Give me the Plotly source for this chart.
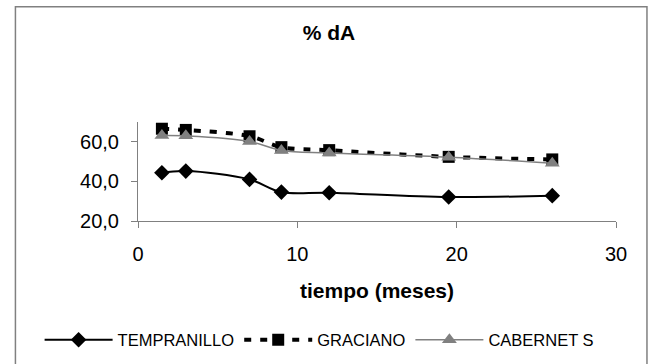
import plotly.graph_objects as go

tiempo = [1.5, 3, 7, 9, 12, 19.5, 26]
tempranillo = [44.4, 45.2, 41.0, 34.6, 34.3, 32.1, 32.8]
graciano = [66.6, 66.0, 62.8, 57.3, 55.8, 52.4, 51.1]
cabernet = [63.2, 63.0, 60.2, 55.6, 54.3, 52.2, 49.2]

W, H = 658, 364
L, R, T, B = 137.5, 42, 122, 143

fig = go.Figure()
fig.add_trace(go.Scatter(
    x=tiempo, y=tempranillo, name="TEMPRANILLO", mode="lines+markers",
    line=dict(color="black", width=2, shape="spline"),
    marker=dict(symbol="diamond", size=12, color="black")))
fig.add_trace(go.Scatter(
    x=tiempo, y=graciano, name="GRACIANO", mode="lines+markers",
    line=dict(color="black", width=4, dash="7px,9px", shape="spline"),
    marker=dict(symbol="square", size=12, color="black")))
fig.add_trace(go.Scatter(
    x=tiempo, y=cabernet, name="CABERNET S", mode="lines+markers",
    line=dict(color="#808080", width=1.5, shape="spline"),
    marker=dict(symbol="triangle-up", size=13, color="#808080")))

pw = W - L - R
ph = H - T - B
def px(x):
    return (x - L) / pw
def py(y):
    return (H - B - y) / ph

fig.add_shape(type="rect", xref="paper", yref="paper",
              x0=px(14.8), x1=px(647), y0=py(6.7), y1=py(366),
              line=dict(color="#808080", width=1.5), layer="below")

fig.update_layout(
    width=W, height=H,
    margin=dict(l=L, r=R, t=T, b=B, autoexpand=False),
    paper_bgcolor="white", plot_bgcolor="white",
    font=dict(family="Liberation Sans, Arial, sans-serif", color="black"),
    title=dict(text="<b>% dA</b>", x=0.5, xref="container", xanchor="center",
               y=1 - 33 / H, yref="container", yanchor="middle",
               font=dict(size=21)),
    showlegend=True,
    legend=dict(orientation="h", x=px(39), xref="paper", xanchor="left",
                y=py(340), yref="paper", yanchor="middle",
                font=dict(size=16.5), itemwidth=68, tracegroupgap=0,
                bgcolor="rgba(0,0,0,0)"),
    xaxis=dict(range=[0, 30], tickvals=[0, 10, 20, 30], showgrid=False,
               zeroline=False, showline=True, linecolor="#808080", linewidth=1,
               ticks="outside", ticklen=6, tickcolor="#808080",
               tickfont=dict(size=20), ticklabelstandoff=9,
               title=dict(text="<b>tiempo (meses)</b>", font=dict(size=21),
                          standoff=19)),
    yaxis=dict(range=[20, 70], tickvals=[20, 40, 60],
               ticktext=["20,0", "40,0", "60,0"], showgrid=False,
               zeroline=False, showline=True, linecolor="#808080", linewidth=1,
               ticks="outside", ticklen=6, tickcolor="#808080",
               tickfont=dict(size=20), ticklabelstandoff=8),
)

fig.write_html("out.html")
